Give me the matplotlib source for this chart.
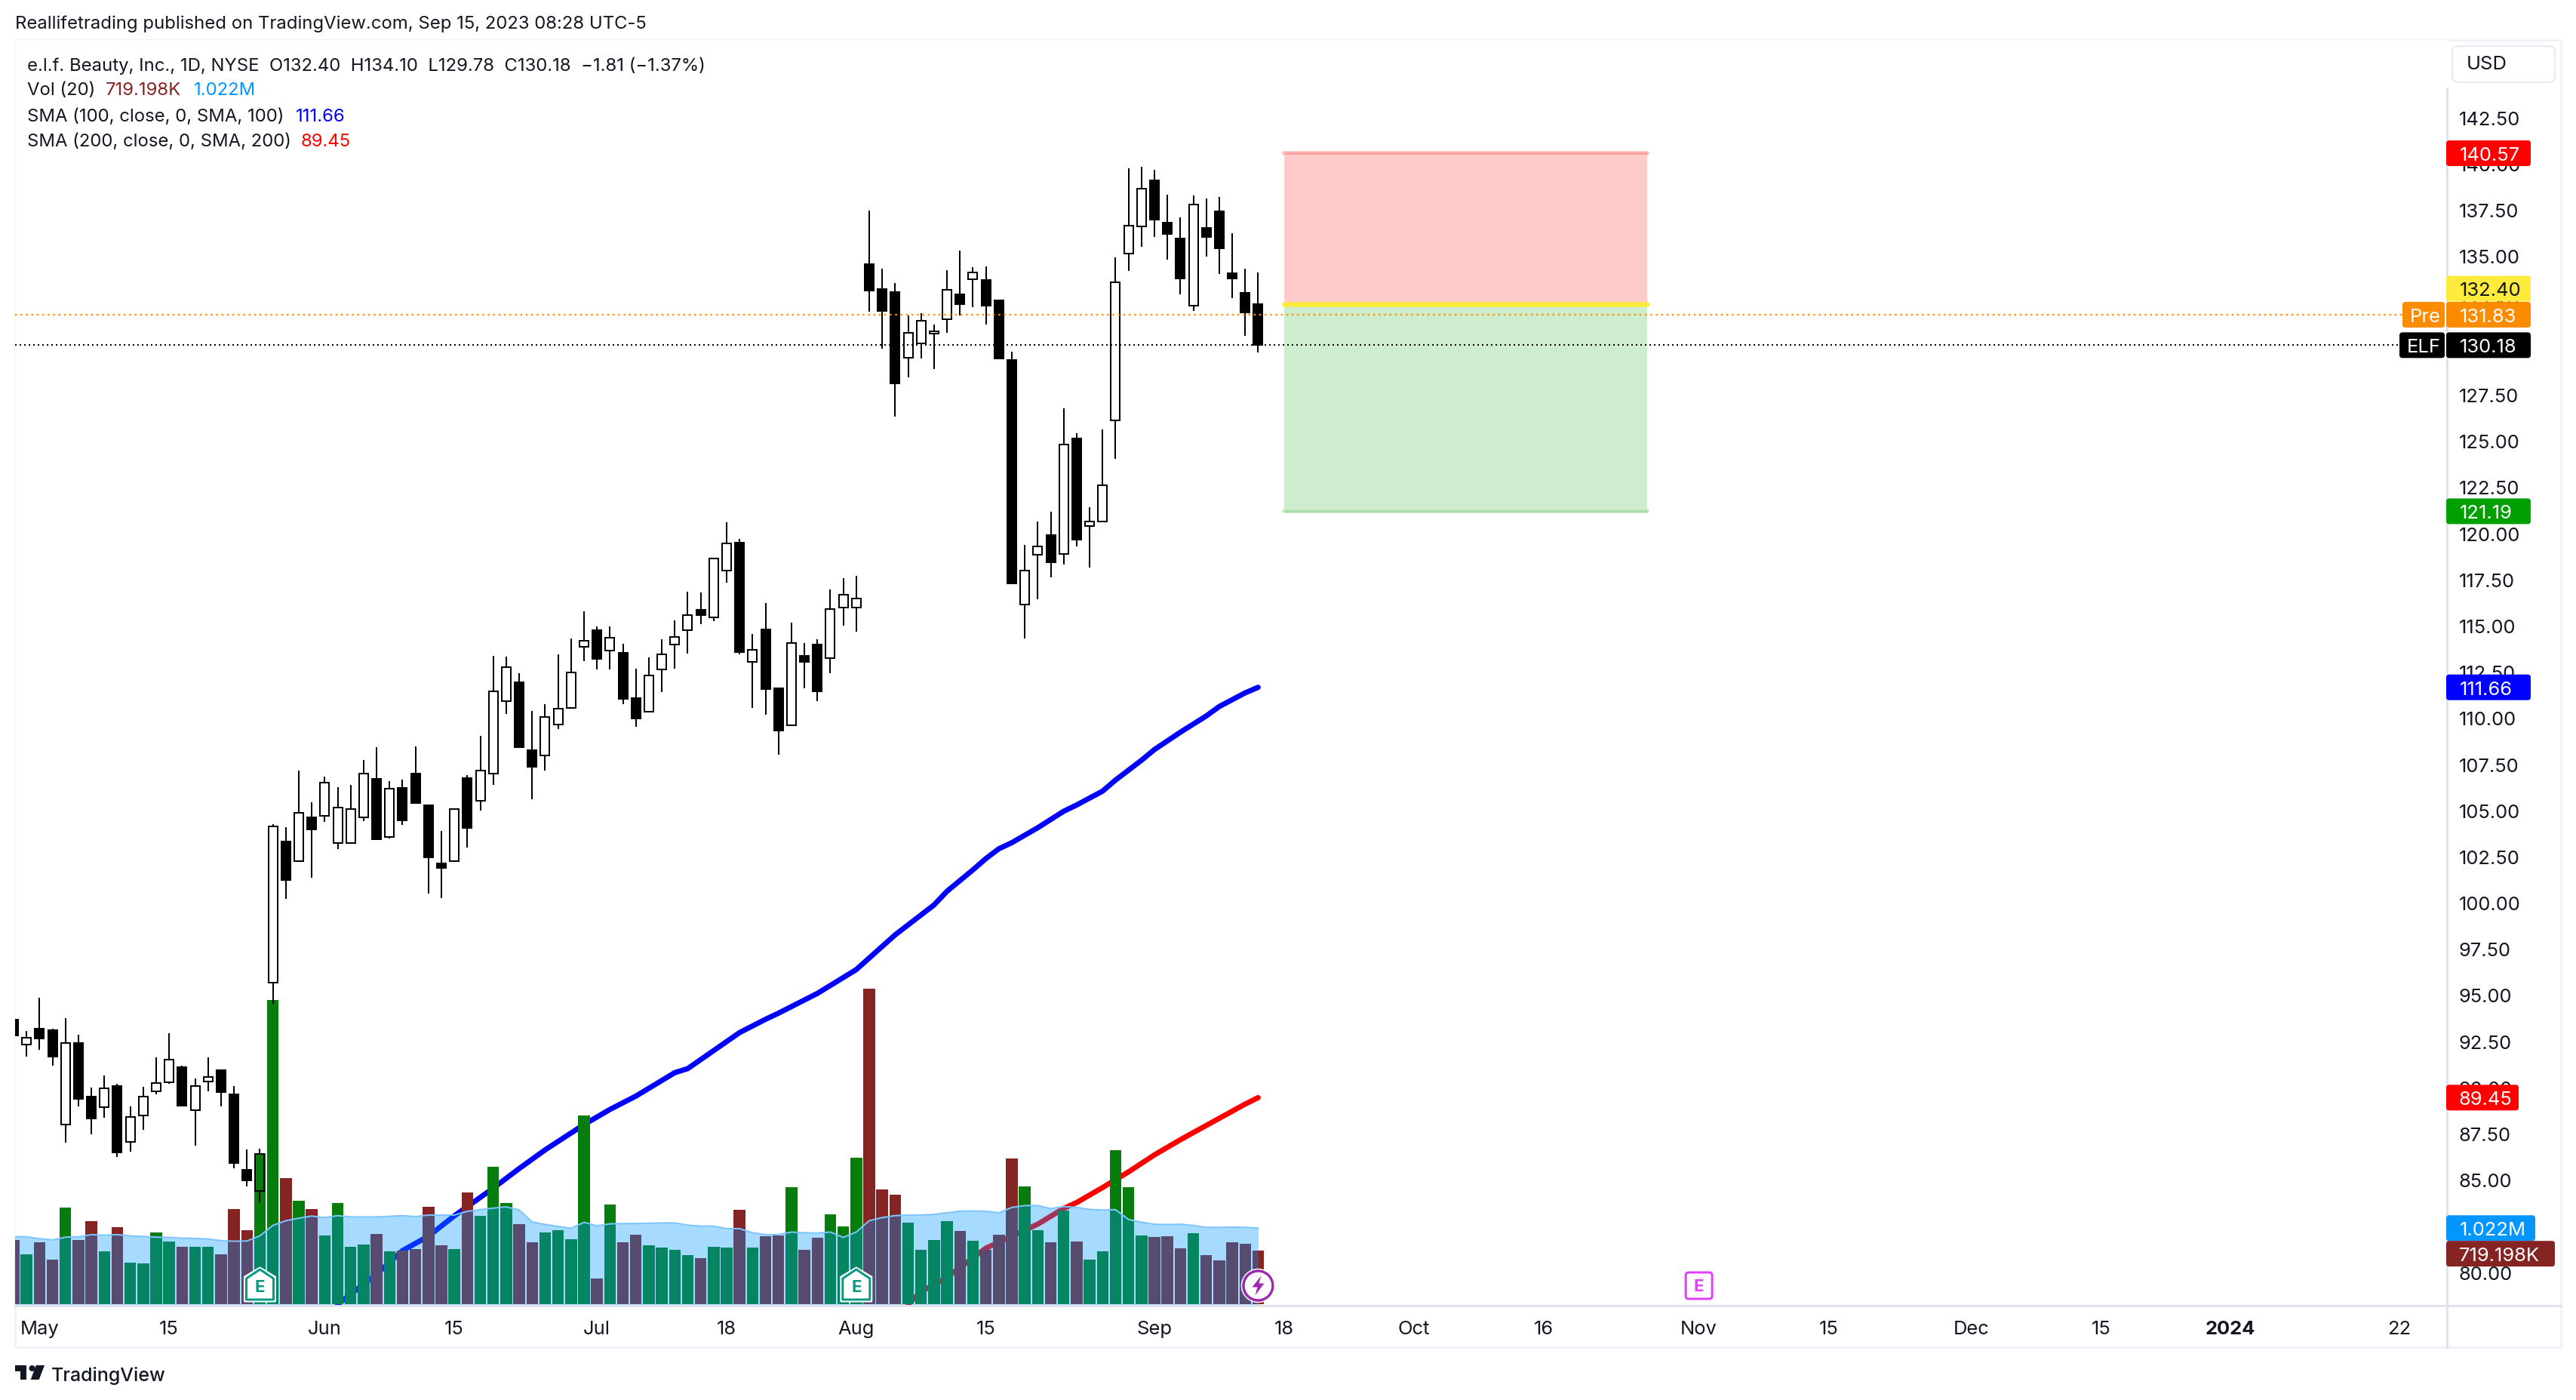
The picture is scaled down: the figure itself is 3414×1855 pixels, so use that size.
import numpy as np
import matplotlib
matplotlib.use("Agg")
import matplotlib.pyplot as plt
from matplotlib.lines import Line2D
from matplotlib.patches import Circle, FancyBboxPatch, Polygon, Rectangle
from matplotlib.transforms import IdentityTransform

# candles
opens = [93.67, 92.31, 93.18, 93.10, 87.98, 92.41, 89.51, 88.92, 90.08, 87.04, 88.47, 89.78, 90.27, 91.10, 88.76, 90.31,
         90.94, 89.63, 85.54, 84.40, 95.66, 103.31, 102.26, 104.60, 104.69, 103.23, 103.22, 104.60, 106.69, 103.54, 106.21, 106.98,
         105.28, 102.12, 102.27, 106.76, 105.51, 106.98, 110.91, 111.93, 108.25, 107.99, 109.64, 110.53, 113.85, 114.74, 113.64, 113.52,
         111.07, 110.32, 112.61, 113.96, 114.77, 115.85, 115.44, 118.00, 119.49, 113.02, 114.79, 111.61, 109.62, 113.36, 113.97, 113.23,
         115.97, 115.97, 134.58, 133.22, 133.04, 129.50, 130.26, 130.79, 131.59, 132.94, 133.73, 133.70, 132.60, 129.37, 116.14, 118.83,
         119.88, 118.87, 125.12, 120.38, 120.62, 126.10, 135.13, 136.60, 139.10, 136.83, 135.95, 132.32, 136.51, 137.42, 134.07, 133.01, 132.40]
highs = [93.67, 93.05, 94.86, 93.18, 93.75, 92.85, 90.00, 90.65, 90.20, 88.97, 90.04, 91.63, 92.94, 91.18, 90.49, 91.63,
         90.98, 90.08, 86.65, 86.69, 104.27, 104.08, 107.14, 105.44, 106.82, 106.25, 106.37, 107.73, 108.41, 106.57, 106.66, 108.46,
         105.28, 103.87, 105.07, 106.89, 109.02, 113.36, 113.31, 112.42, 110.38, 110.75, 113.45, 114.29, 115.77, 114.95, 114.95, 114.01,
         112.66, 113.27, 114.26, 115.28, 116.83, 116.79, 118.64, 120.59, 119.69, 114.54, 116.22, 111.61, 115.15, 114.06, 114.26, 116.95,
         117.56, 117.69, 137.47, 134.32, 133.54, 131.78, 131.93, 131.29, 134.23, 135.29, 134.41, 134.44, 132.63, 129.82, 119.37, 120.64,
         121.16, 126.75, 125.41, 121.40, 125.62, 134.94, 139.76, 139.83, 139.67, 138.32, 137.10, 138.29, 138.11, 138.20, 136.23, 134.32, 134.10]
lows = [92.83, 91.68, 92.04, 91.19, 87.03, 88.99, 87.48, 88.37, 86.25, 86.54, 87.72, 89.64, 90.21, 89.02, 86.86, 89.81,
        88.99, 85.64, 84.66, 83.80, 94.54, 100.21, 102.26, 101.37, 104.39, 102.91, 103.22, 104.43, 103.41, 103.48, 104.22, 105.41,
        100.50, 100.26, 102.27, 102.98, 105.00, 106.38, 110.22, 108.43, 105.61, 107.16, 109.40, 110.53, 113.08, 112.64, 112.64, 110.76,
        109.54, 110.32, 111.42, 112.67, 113.49, 115.09, 115.25, 117.33, 113.46, 110.56, 110.19, 108.02, 109.62, 111.62, 110.92, 112.44,
        115.01, 114.69, 132.01, 130.01, 126.33, 128.42, 129.48, 128.90, 130.86, 131.77, 132.24, 131.31, 129.48, 117.29, 114.32, 116.41,
        117.63, 118.32, 119.30, 118.16, 120.62, 124.01, 134.18, 135.52, 136.02, 134.83, 132.95, 132.05, 134.96, 134.05, 132.74, 130.70, 129.78]
closes = [92.83, 92.71, 92.65, 91.68, 92.42, 89.40, 88.33, 89.97, 86.50, 88.42, 89.52, 90.25, 91.52, 89.02, 90.09, 90.58,
          89.76, 85.92, 84.98, 86.41, 104.11, 101.24, 104.87, 103.98, 106.52, 105.16, 105.07, 106.97, 103.45, 106.18, 104.47, 105.41,
          102.46, 101.89, 105.07, 104.06, 107.16, 111.45, 112.76, 108.43, 107.36, 110.06, 110.51, 112.47, 114.19, 113.21, 114.35, 111.04,
          109.99, 112.31, 113.45, 114.39, 115.58, 115.58, 118.64, 119.46, 113.56, 113.69, 111.58, 109.33, 114.06, 113.05, 111.45, 115.90,
          116.68, 116.48, 133.15, 132.05, 128.12, 130.85, 131.52, 130.95, 133.18, 132.42, 134.12, 132.30, 129.48, 117.29, 117.98, 119.30,
          118.41, 124.80, 119.67, 120.64, 122.59, 133.59, 136.66, 138.66, 136.96, 136.21, 133.77, 137.79, 136.02, 135.43, 133.80, 131.96, 130.18]

# volume and its 20 bar average, in millions
volumes = [.867, .668, .833, .601, 1.299, .863, 1.113, .711, 1.032, .558, .550, .964, .842, .770, .770, .770,
           .668, 1.277, .994, 2.026, 4.078, 1.692, 1.387, 1.277, .922, 1.358, .770, .799, .943, .711, .719, .740,
           1.307, .791, .740, 1.497, 1.184, 1.844, 1.358, 1.074, .833, .964, .994, .871, 2.530, .347, 1.337, .833,
           .931, .791, .761, .732, .660, .618, .770, .761, 1.265, .761, .914, .922, 1.569, .732, .893, 1.206,
           1.045, 1.963, 4.230, 1.540, 1.468, 1.096, .732, .863, 1.113, .981, .850, .732, .931, 1.954, 1.578, .994,
           .833, 1.256, .842, .601, .711, 2.064, 1.569, .922, .901, .914, .749, .952, .660, .588, .833, .812, .719]
vol_ma = [.909, .905, .880, .863, .901, .905, .935, .926, .935, .918, .909, .901, .897, .888, .884, .876,
          .854, .846, .850, .918, 1.058, 1.121, 1.155, 1.184, 1.163, 1.189, 1.172, 1.172, 1.172, 1.180, 1.189, 1.176,
          1.197, 1.197, 1.197, 1.248, 1.269, 1.290, 1.307, 1.265, 1.104, 1.070, 1.045, 1.019, 1.100, 1.053, 1.079, 1.083,
          1.083, 1.087, 1.091, 1.091, 1.062, 1.049, 1.049, 1.015, 1.015, .960, .935, .935, .969, .960, .956, .969,
          .897, .969, 1.121, 1.163, 1.189, 1.197, 1.197, 1.206, 1.227, 1.248, 1.252, 1.248, 1.227, 1.299, 1.324, 1.324,
          1.282, 1.311, 1.299, 1.273, 1.265, 1.269, 1.138, 1.100, 1.074, 1.070, 1.074, 1.058, 1.032, 1.032, 1.036, 1.032, 1.022]

sma100_idx = [25, 28, 30, 32, 34, 36, 37, 39, 41, 44, 46, 48, 51, 52, 56, 58, 59, 62, 65, 68, 71, 72, 74, 75, 76, 77, 79, 81, 82, 84,
              85, 87, 88, 90, 92, 93, 95, 96]
sma100 = [78.26, 79.90, 81.17, 81.95, 83.05, 84.05, 84.55, 85.61, 86.62, 87.99, 88.81, 89.53, 90.80, 91.02, 92.97, 93.69, 94.02, 95.09,
          96.38, 98.26, 99.88, 100.62, 101.78, 102.39, 102.92, 103.25, 104.06, 104.95, 105.29, 106.04, 106.64, 107.71, 108.29, 109.23,
          110.11, 110.62, 111.36, 111.66]
sma200_idx = [69, 70, 72, 75, 79, 81, 82, 84, 86, 88, 90, 93, 95, 96]
sma200 = [78.26, 78.94, 79.72, 81.30, 82.60, 83.45, 83.77, 84.58, 85.43, 86.35, 87.17, 88.33, 89.10, 89.45]

# long position drawing
pos_start, pos_end = 98, 126
stop_price, entry_price, target_price = 140.57, 132.40, 121.19
pre_price, last_price = 131.83, 130.18

price_ticks = [80 + 2.5 * k for k in range(26)]
time_ticks = [2, 12, 24, 34, 45, 55, 65, 75, 88, 98, 108, 118, 130, 140, 151, 161, 171, 184]
time_labels = ["May", "15", "Jun", "15", "Jul", "18", "Aug", "15", "Sep", "18", "Oct", "16", "Nov", "15", "Dec", "15", "2024", "22"]
earnings_idx = [19, 65]
next_earnings_idx = 130
dividend_idx = 96

W, H = 3414, 1856
DPI = 100
PT = 72 / DPI  # px to pt
INK = "#131722"
AXIS_SIZE = 18.4
GREEN, MAROON = "#067D0D", "#862424"
plt.rcParams["font.family"] = "Inter"


def px(x, y):
    return (x, H - y)


fig = plt.figure(figsize=(W / DPI, H / DPI), dpi=DPI, facecolor="white")
ax = fig.add_axes([20 / W, (H - 1730.7) / H, 3223 / W, 1676.7 / H])
ax_vol = ax.twinx()
ax_top = ax.twinx()
ax.set_zorder(1)
ax_vol.set_zorder(2)
ax_top.set_zorder(3)
for a in (ax_vol, ax_top):
    a.patch.set_visible(False)
for a in (ax, ax_vol, ax_top):
    a.set_xlim(0.116, 187.7)
    for s in a.spines.values():
        s.set_visible(False)
ax.set_ylim(78.20, 146.70)
ax_top.set_ylim(78.20, 146.70)
ax_vol.set_ylim(-0.014, 16.94)
ax_vol.set_yticks([])
ax.set_yticks([])

idx = np.arange(len(closes))
o, h_, l_, c = map(np.array, (opens, highs, lows, closes))
up = c >= o
top = np.maximum(o, c)
bot = np.minimum(o, c)

# back layer: position box, averages, last price line, candle fill
ax.fill_between([pos_start, pos_end], entry_price, stop_price, color="#FECBCB", lw=0)
ax.fill_between([pos_start, pos_end], target_price, entry_price, color="#CEECCE", lw=0)
ax.plot([pos_start, pos_end], [stop_price] * 2, color="#FFC4C4", lw=6 * PT, solid_capstyle="round")
ax.plot([pos_start, pos_end], [stop_price] * 2, color="#FFA0A0", lw=3 * PT, solid_capstyle="butt")
ax.plot([pos_start, pos_end], [target_price] * 2, color="#CCEBCC", lw=6 * PT, solid_capstyle="round")
ax.plot([pos_start, pos_end], [target_price] * 2, color="#AADDAA", lw=3 * PT, solid_capstyle="butt")
ax.plot([pos_start, pos_end], [entry_price] * 2, color="#FFEB3B", lw=6.5 * PT, solid_capstyle="round")
ax.plot([0.116, (3180 - 18) / 17.18], [last_price] * 2, color="black", lw=2 * PT, ls=(0, (1, 2)))
ax.plot(sma100_idx, sma100, color="#0000FF", lw=7 * PT, solid_capstyle="round", solid_joinstyle="round")
ax.plot(sma200_idx, sma200, color="#FF0000", lw=7 * PT, solid_capstyle="round", solid_joinstyle="round")
ax.bar(idx[up], top[up] - bot[up], bottom=bot[up], width=0.70, color="white", lw=0)

# volume pane
ax_vol.bar(idx, volumes, width=0.90, color=[GREEN if u else MAROON for u in up], lw=0)
ax_vol.fill_between(idx, 0, vol_ma, color="#0496FF", alpha=0.35, lw=0)
ax_vol.plot(idx, vol_ma, color="#7CC5FF", lw=2 * PT)

# candle outlines and wicks sit over the volume
ax_top.vlines(idx, top, h_, color="black", lw=2 * PT)
ax_top.vlines(idx, l_, bot, color="black", lw=2 * PT)
ax_top.bar(idx[up], top[up] - bot[up], bottom=bot[up], width=0.70, facecolor="none", edgecolor="black", lw=2 * PT)
ax_top.bar(idx[~up], top[~up] - bot[~up], bottom=bot[~up], width=0.70, color="black", edgecolor="black", lw=2 * PT)
ax_top.plot([0.116, (3184 - 18) / 17.18], [pre_price] * 2, color="#FF9000", lw=2.4 * PT, ls=(0, (1, 2)))

# axes labels
ax.set_xticks(time_ticks, labels=time_labels)
ax.tick_params(axis="x", length=0, pad=14, labelsize=AXIS_SIZE, labelcolor=INK)
ax.get_xticklabels()[time_labels.index("2024")].set_fontweight("bold")
ax_top.set_yticks(price_ticks, labels=[f"{t:.2f}" for t in price_ticks])
ax_top.tick_params(axis="y", length=0, pad=11.5, labelsize=AXIS_SIZE, labelcolor=INK, labelright=True)

# frame
fig.add_artist(Rectangle(px(20, 1786), 3374, 1732, transform=IdentityTransform(), fill=False, ec="#F0F3FA", lw=3 * PT))
fig.add_artist(Line2D([20, 3394], [H - 1730.7] * 2, transform=IdentityTransform(), color="#E0E3EB", lw=3 * PT))
fig.add_artist(Line2D([3243, 3243], [H - 118, H - 1786], transform=IdentityTransform(), color="#E0E3EB", lw=3 * PT))
fig.add_artist(FancyBboxPatch(px(3250, 110), 136, 48, boxstyle="round,pad=0,rounding_size=8", transform=IdentityTransform(),
                              fc="white", ec="#E8EAF0", lw=2 * PT))


def label(x, y, s, color=INK, size=17.2, **kw):
    fig.text(x / W, 1 - y / H, s, color=color, fontsize=size, va="center", zorder=6, **kw)


label(3269, 86, "USD", size=AXIS_SIZE)
label(20, 32, "Reallifetrading published on TradingView.com, Sep 15, 2023 08:28 UTC-5")
label(36, 87, "e.l.f. Beauty, Inc., 1D, NYSE  O132.40  H134.10  L129.78  C130.18  \u22121.81 (\u22121.37%)")
label(36, 120, "Vol (20)")
label(140, 120, "719.198K", color=MAROON)
label(257, 120, "1.022M", color="#0496FF")
label(36, 155, "SMA (100, close, 0, SMA, 100)")
label(392, 155, "111.66", color="#0000FF")
label(36, 188, "SMA (200, close, 0, SMA, 200)")
label(399, 188, "89.45", color="#FF0000")


def tag(y, text, bg, fg, x0=3242, x1=3354, tx=3260, axis=ax_top):
    yd = axis.transData.transform((0, y))[1]
    ax_top.add_patch(FancyBboxPatch((x0, yd - 17), x1 - x0, 34, boxstyle="round,pad=0,rounding_size=4", transform=IdentityTransform(),
                                    fc=bg, ec="none", clip_on=False, zorder=10))
    ax_top.text(tx, yd, text, transform=IdentityTransform(), color=fg, fontsize=AXIS_SIZE, va="center_baseline", ha="left", zorder=11, clip_on=False)


tag(140.57, "140.57", "#FF0000", "white")
tag(133.24, "132.40", "#FFEB3B", "#131722")
tag(pre_price, "131.83", "#FB8C00", "white")
tag(pre_price, "Pre", "#FB8C00", "white", x0=3184, x1=3240, tx=3194)
tag(last_price, "130.18", "black", "white")
tag(last_price, "ELF", "black", "white", x0=3180, x1=3240, tx=3190)
tag(target_price, "121.19", "#00A000", "white")
tag(111.66, "111.66", "#0000FF", "white")
tag(89.45, "89.45", "#FF0000", "white", x1=3338, tx=3259)
tag(1.022, "1.022M", "#0496FF", "white", x1=3360, axis=ax_vol)
tag(81.0, "719.198K", MAROON, "white", x1=3386, tx=3259)


# event markers along the bottom of the pane
def xd(i):
    return ax_top.transData.transform((i, 100))[0]


for i in earnings_idx:
    cx = xd(i)
    for pad, fc, ec, lw in [(2, "white", "white", 3), (0, "white", "#089981", 3)]:
        pts = [px(cx, 1683 - pad), px(cx + 18 + pad, 1695 - pad), px(cx + 18 + pad, 1723 + pad), px(cx - 18 - pad, 1723 + pad), px(cx - 18 - pad, 1695 - pad)]
        ax_top.add_patch(Polygon(pts, closed=True, transform=IdentityTransform(), fc=fc, ec=ec, lw=lw * PT, joinstyle="round", clip_on=False, zorder=8))
    ax_top.text(cx, H - 1706, "E", transform=IdentityTransform(), color="#089981", fontsize=16, fontweight="bold", ha="center", va="center", zorder=9, clip_on=False)

cx = xd(next_earnings_idx)
ax_top.add_patch(FancyBboxPatch((cx - 17.5, H - 1722), 35, 35, boxstyle="round,pad=0,rounding_size=4", transform=IdentityTransform(),
                                fc="white", ec="#E040FB", lw=3 * PT, clip_on=False, zorder=8))
ax_top.text(cx, H - 1705, "E", transform=IdentityTransform(), color="#E040FB", fontsize=16, fontweight="bold", ha="center", va="center", zorder=9, clip_on=False)

cx = xd(dividend_idx)
ax_top.add_patch(Circle(px(cx, 1704.5), 19.5, transform=IdentityTransform(), fc="white", ec="#9C27B0", lw=3.5 * PT, clip_on=False, zorder=8))
ax_top.add_patch(Circle(px(cx, 1704.5), 22, transform=IdentityTransform(), fc="none", ec="white", lw=1.5 * PT, clip_on=False, zorder=8))
bolt = [(4, -13), (-8, 2), (-1, 2), (-4, 13), (8, -3), (1, -3)]
ax_top.add_patch(Polygon([px(cx + dx, 1704.5 + dy) for dx, dy in bolt], closed=True, transform=IdentityTransform(), fc="#9C27B0", ec="none", clip_on=False, zorder=9))

# TradingView logo
logo_t = [(20, 1810), (35, 1810), (35, 1829), (26.7, 1829), (26.7, 1817.7), (20, 1817.7)]
logo_s = [(47.7, 1810), (59, 1810), (51.7, 1829), (40.7, 1829)]
fig.add_artist(Polygon([px(*p) for p in logo_t], closed=True, transform=IdentityTransform(), fc=INK, ec="none"))
fig.add_artist(Polygon([px(*p) for p in logo_s], closed=True, transform=IdentityTransform(), fc=INK, ec="none"))
fig.add_artist(Circle(px(42.5, 1814), 4, transform=IdentityTransform(), fc=INK, ec="none"))
label(68, 1823, "TradingView", size=18, fontweight="medium")

fig.savefig("out.png", dpi=DPI)
